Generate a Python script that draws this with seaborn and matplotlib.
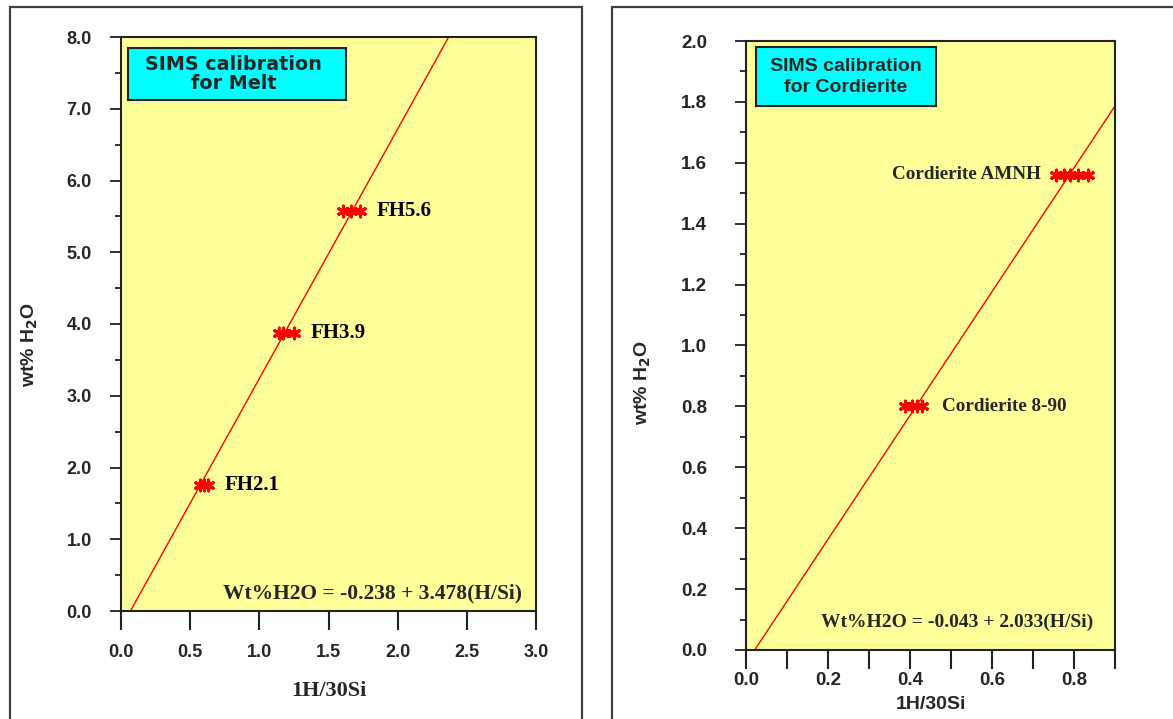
import numpy as np
import pandas as pd
import matplotlib
matplotlib.use("Agg")
import matplotlib.pyplot as plt
from matplotlib.patches import Rectangle
from matplotlib.ticker import MultipleLocator, FormatStrFormatter
import seaborn as sns

# ---------------- data ----------------
melt_samples = ["FH2.1", "FH3.9", "FH5.6"]
melt_wt = [1.76, 3.88, 5.58]
melt_ratio_runs = [[0.57, 0.60, 0.63], [1.14, 1.17, 1.25], [1.605, 1.66, 1.73]]
melt_intercept, melt_slope = -0.238, 3.478

crd_samples = ["Cordierite 8-90", "Cordierite AMNH"]
crd_wt = [0.80, 1.56]
crd_ratio_runs = [[0.388, 0.405, 0.418, 0.429], [0.757, 0.775, 0.79, 0.81, 0.833]]
crd_intercept, crd_slope = -0.043, 2.033

melt_title = "SIMS calibration\nfor Melt"
crd_title = "SIMS calibration\nfor Cordierite"
melt_eq = "Wt%H2O = -0.238 + 3.478(H/Si)"
crd_eq = "Wt%H2O = -0.043 + 2.033(H/Si)"
xlabel_text = "1H/30Si"
ylabel_text = "wt% H$_\\mathbf{2}$O"

# ---------------- style ----------------
sns.set_theme(style="white")
plt.rcParams["font.family"] = ["DejaVu Sans"]
plt.rcParams["mathtext.default"] = "bf"

YELLOW = "#FFFF99"
CYAN = "#00FFFF"
SANS = "Liberation Sans"
SERIF = "Liberation Serif"

fig = plt.figure(figsize=(11.73, 7.19), dpi=100)
fig.patch.set_facecolor("white")

# outer panel frames
fig.add_artist(Rectangle((10 / 1173, -0.02), (582 - 10) / 1173, 1 - 7 / 719 + 0.02,
                         transform=fig.transFigure, fill=False, ec="#404040", lw=1.6))
fig.add_artist(Rectangle((612 / 1173, -0.02), 0.5, 1 - 7 / 719 + 0.02,
                         transform=fig.transFigure, fill=False, ec="#404040", lw=1.6))

ax1 = fig.add_axes([121 / 1173, 1 - 611 / 719, (536 - 121) / 1173, (611 - 37) / 719])
ax2 = fig.add_axes([746 / 1173, 1 - 650 / 719, (1115 - 746) / 1173, (650 - 41) / 719])


def draw_panel(ax, samples, wt, runs, b, m, xmax, ymax):
    ax.set_facecolor(YELLOW)
    rows = []
    for s, y, r in zip(samples, wt, runs):
        for x in r:
            rows.append({"sample": s, "ratio": x, "wt": y})
    df = pd.DataFrame(rows)
    # fitted calibration line
    x0 = (0 - b) / m
    x1 = min(xmax, (ymax - b) / m)
    xs = np.array([x0, x1])
    sns.lineplot(x=xs, y=b + m * xs, ax=ax, color="red", lw=1.0, zorder=2)
    # spread of replicate measurements
    for s, y, r in zip(samples, wt, runs):
        ax.hlines(y, min(r), max(r), color="red", lw=5, zorder=3)
    sns.scatterplot(data=df, x="ratio", y="wt", ax=ax, marker=(6, 2, 0), s=60,
                    color="red", edgecolor="red", linewidth=2.2, zorder=4, legend=False)
    ax.set_xlim(0, xmax)
    ax.set_ylim(0, ymax)
    for sp in ax.spines.values():
        sp.set_visible(True)
        sp.set_color("#222222")
        sp.set_linewidth(1.5)
    return df


draw_panel(ax1, melt_samples, melt_wt, melt_ratio_runs, melt_intercept, melt_slope, 3.0, 8.0)
draw_panel(ax2, crd_samples, crd_wt, crd_ratio_runs, crd_intercept, crd_slope, 0.9, 2.0)

# ---------- left panel axes ----------
ax1.xaxis.set_major_locator(MultipleLocator(0.5))
ax1.yaxis.set_major_locator(MultipleLocator(1.0))
ax1.yaxis.set_minor_locator(MultipleLocator(0.5))
ax1.xaxis.set_major_formatter(FormatStrFormatter("%.1f"))
ax1.yaxis.set_major_formatter(FormatStrFormatter("%.1f"))
ax1.tick_params(axis="x", which="major", direction="out", length=13.5, width=1.5,
                pad=10, bottom=True, color="#222222")
ax1.tick_params(axis="y", which="major", direction="out", length=8, width=1.3,
                pad=13, left=True, color="#222222")
ax1.tick_params(axis="y", which="minor", direction="out", length=4.5, width=1.3,
                left=True, color="#222222")
for lab in ax1.get_xticklabels() + ax1.get_yticklabels():
    lab.set_fontfamily(SANS)
    lab.set_fontweight("bold")
    lab.set_fontsize(13)
ax1.set_xlabel(xlabel_text, fontfamily=SERIF, fontweight="bold", fontsize=16)
ax1.xaxis.set_label_coords(0.5, -0.122)
ax1.set_ylabel(ylabel_text, fontfamily=SANS, fontweight="bold", fontsize=14)
ax1.yaxis.set_label_coords(-0.195, 0.465)

for s, y, r in zip(melt_samples, melt_wt, melt_ratio_runs):
    ax1.text(max(r) + 0.12, y, s, fontfamily=SERIF, fontweight="bold", fontsize=15,
             va="center", ha="left", color="black")

ax1.add_patch(Rectangle((0.0169, 0.890), 0.542 - 0.0169, 0.981 - 0.890,
                        transform=ax1.transAxes, fc=CYAN, ec="#222222", lw=1.5, zorder=5))
ax1.text((0.0169 + 0.542) / 2 - 0.008, (0.890 + 0.981) / 2, melt_title, transform=ax1.transAxes,
         ha="center", va="center", fontfamily="DejaVu Sans", fontweight="bold",
         fontsize=13.8, linespacing=1.05, zorder=6)
ax1.text(0.966, 0.031, melt_eq, transform=ax1.transAxes, ha="right", va="center",
         fontfamily=SERIF, fontweight="bold", fontsize=15.5)

# ---------- right panel axes ----------
ax2.xaxis.set_major_locator(MultipleLocator(0.2))
ax2.xaxis.set_minor_locator(MultipleLocator(0.1))
ax2.yaxis.set_major_locator(MultipleLocator(0.2))
ax2.yaxis.set_minor_locator(MultipleLocator(0.1))
ax2.xaxis.set_major_formatter(FormatStrFormatter("%.1f"))
ax2.yaxis.set_major_formatter(FormatStrFormatter("%.1f"))
ax2.tick_params(axis="x", which="both", direction="out", length=14, width=1.5,
                pad=2, bottom=True, color="#222222")
ax2.tick_params(axis="y", which="major", direction="out", length=8, width=1.3,
                pad=20, left=True, color="#222222")
ax2.tick_params(axis="y", which="minor", direction="out", length=4.5, width=1.3,
                left=True, color="#222222")
for lab in ax2.get_xticklabels() + ax2.get_yticklabels():
    lab.set_fontfamily(SANS)
    lab.set_fontweight("bold")
    lab.set_fontsize(13.5)
ax2.set_xlabel(xlabel_text, fontfamily=SANS, fontweight="bold", fontsize=14)
ax2.xaxis.set_label_coords(0.5, -0.076)
ax2.set_ylabel(ylabel_text, fontfamily=SANS, fontweight="bold", fontsize=14)
ax2.yaxis.set_label_coords(-0.252, 0.44)

ax2.text(min(crd_ratio_runs[1]) - 0.038, crd_wt[1], crd_samples[1], fontfamily=SERIF,
         fontweight="bold", fontsize=13.8, va="center", ha="right")
ax2.text(max(crd_ratio_runs[0]) + 0.049, crd_wt[0], crd_samples[0], fontfamily=SERIF,
         fontweight="bold", fontsize=13.8, va="center", ha="left")

ax2.add_patch(Rectangle((0.027, 0.893), 0.515 - 0.027, 0.990 - 0.893,
                        transform=ax2.transAxes, fc=CYAN, ec="#222222", lw=1.5, zorder=5))
ax2.text((0.027 + 0.515) / 2, (0.893 + 0.990) / 2, crd_title, transform=ax2.transAxes,
         ha="center", va="center", fontfamily=SANS, fontweight="bold",
         fontsize=14, linespacing=1.3, zorder=6)
ax2.text(0.940, 0.046, crd_eq, transform=ax2.transAxes, ha="right", va="center",
         fontfamily=SERIF, fontweight="bold", fontsize=14)

fig.savefig("out.png", dpi=100, facecolor="white")
